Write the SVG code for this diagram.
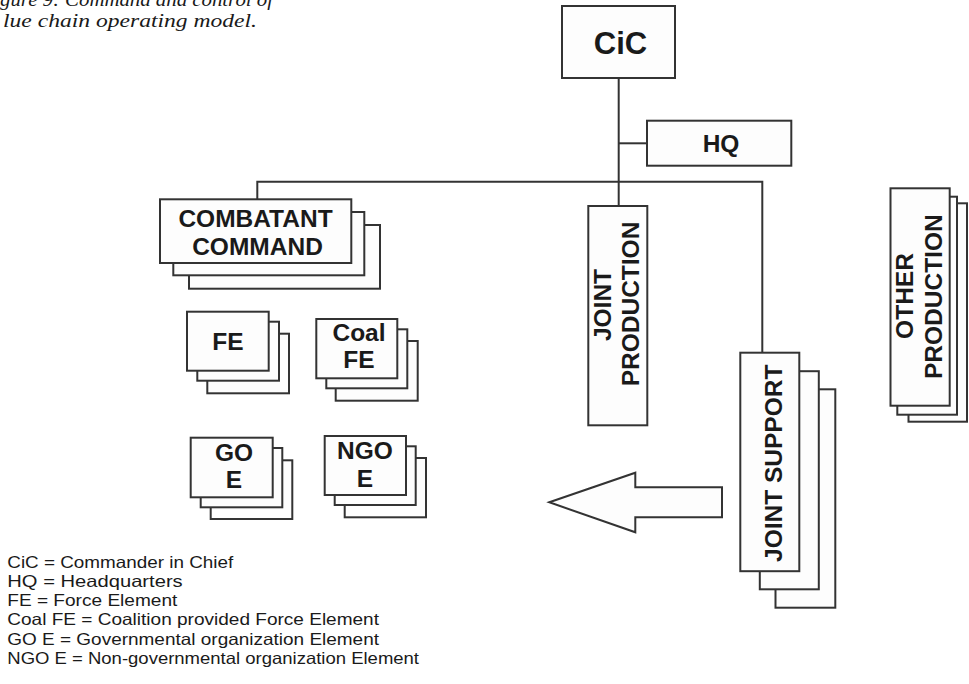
<svg xmlns="http://www.w3.org/2000/svg" width="969" height="684" viewBox="0 0 969 684">
  <style>
    .box { fill: #fdfdfd; stroke: #333; stroke-width: 2; }
    .wire { fill: none; stroke: #333; stroke-width: 2; }
    .lbl { font-family: "Liberation Sans", Arial, sans-serif; font-weight: bold; font-size: 24.5px; fill: #1a1a1a; text-anchor: middle; }
    .legend { font-family: "Liberation Sans", Arial, sans-serif; font-size: 16.5px; fill: #1a1a1a; }
    .caption { font-family: "Liberation Serif", "Times New Roman", serif; font-style: italic; font-size: 19px; fill: #1a1a1a; }
  </style>
  <rect width="969" height="684" fill="#ffffff"/>

  <!-- figure caption (runs off the page edge) -->
  <text class="caption" x="0" y="6" textLength="273" lengthAdjust="spacingAndGlyphs">gure 9: Command and control of</text>
  <text class="caption" x="3" y="26.5" textLength="254" lengthAdjust="spacingAndGlyphs">lue chain operating model.</text>

  <!-- connectors -->
  <g id="connectors">
    <line class="wire" x1="618.7" y1="78" x2="618.7" y2="206"/>
    <line class="wire" x1="618.7" y1="143.3" x2="647" y2="143.3"/>
    <polyline class="wire" points="257.3,199.3 257.3,181.7 762.3,181.7 762.3,352.7"/>
  </g>

  <g id="cic">
    <rect class="box" x="562" y="6" width="113" height="72"/>
    <text class="lbl" x="620.5" y="54.3" style="font-size:31px">CiC</text>
  </g>

  <g id="hq">
    <rect class="box" x="647" y="120.7" width="144.3" height="45"/>
    <text class="lbl" x="721" y="151.5">HQ</text>
  </g>

  <g id="combatant-command">
    <rect class="box" x="189" y="225" width="191" height="63.7"/>
    <rect class="box" x="173.3" y="212" width="191" height="63.3"/>
    <rect class="box" x="160" y="199.3" width="191.3" height="63.7"/>
    <text class="lbl" x="255.5" y="227.3">COMBATANT</text>
    <text class="lbl" x="257.5" y="255">COMMAND</text>
  </g>

  <g id="fe">
    <rect class="box" x="207.3" y="333.7" width="81.7" height="59.6"/>
    <rect class="box" x="197.3" y="321.7" width="81.7" height="59"/>
    <rect class="box" x="187" y="311.7" width="81.7" height="59"/>
    <text class="lbl" x="228" y="350">FE</text>
  </g>

  <g id="coal-fe">
    <rect class="box" x="335.7" y="341" width="82" height="59.7"/>
    <rect class="box" x="326.3" y="329.3" width="81" height="59"/>
    <rect class="box" x="316.3" y="319" width="81" height="59.3"/>
    <text class="lbl" x="359" y="341">Coal</text>
    <text class="lbl" x="359" y="368.3">FE</text>
  </g>

  <g id="go-e">
    <rect class="box" x="210.7" y="460.3" width="81.6" height="58.7"/>
    <rect class="box" x="200.7" y="448" width="81.6" height="59.3"/>
    <rect class="box" x="190.7" y="437.7" width="82" height="59.6"/>
    <text class="lbl" x="234" y="460.7">GO</text>
    <text class="lbl" x="234" y="488.3">E</text>
  </g>

  <g id="ngo-e">
    <rect class="box" x="344.7" y="458" width="81.3" height="59.3"/>
    <rect class="box" x="334.7" y="446.3" width="81" height="58.7"/>
    <rect class="box" x="324.7" y="436" width="81.3" height="59"/>
    <text class="lbl" x="365" y="459.3">NGO</text>
    <text class="lbl" x="365" y="487.3">E</text>
  </g>

  <g id="joint-production">
    <rect class="box" x="588.3" y="206" width="59" height="219.3"/>
    <text class="lbl" transform="translate(610.7,305) rotate(-90)">JOINT</text>
    <text class="lbl" transform="translate(639,304) rotate(-90)">PRODUCTION</text>
  </g>

  <g id="joint-support">
    <rect class="box" x="775.5" y="389.3" width="59.8" height="218.4"/>
    <rect class="box" x="759.8" y="371.2" width="59" height="218.1"/>
    <rect class="box" x="740.3" y="352.7" width="59" height="218.5"/>
    <text class="lbl" transform="translate(782.3,463.3) rotate(-90)">JOINT SUPPORT</text>
  </g>

  <g id="other-production">
    <rect class="box" x="908.5" y="203.3" width="58.5" height="218.4"/>
    <rect class="box" x="897.3" y="196.7" width="59.7" height="218"/>
    <rect class="box" x="890.5" y="188.3" width="59.2" height="217.4"/>
    <text class="lbl" transform="translate(913.3,296) rotate(-90)">OTHER</text>
    <text class="lbl" transform="translate(941.7,296.7) rotate(-90)">PRODUCTION</text>
  </g>

  <g id="support-arrow">
    <polygon class="box" points="549.3,502.3 635.3,472.7 635.3,487.3 722,487.3 722,517.3 635.3,517.3 635.3,532.3"/>
  </g>

  <g id="legend">
    <text class="legend" x="7.3" y="567.7" textLength="226" lengthAdjust="spacingAndGlyphs">CiC = Commander in Chief</text>
    <text class="legend" x="7.3" y="586.9" textLength="175.4" lengthAdjust="spacingAndGlyphs">HQ = Headquarters</text>
    <text class="legend" x="7.3" y="606.1" textLength="170" lengthAdjust="spacingAndGlyphs">FE = Force Element</text>
    <text class="legend" x="7.3" y="625.3" textLength="371.7" lengthAdjust="spacingAndGlyphs">Coal FE = Coalition provided Force Element</text>
    <text class="legend" x="7.3" y="644.5" textLength="371.7" lengthAdjust="spacingAndGlyphs">GO E = Governmental organization Element</text>
    <text class="legend" x="7.3" y="663.7" textLength="411.7" lengthAdjust="spacingAndGlyphs">NGO E = Non-governmental organization Element</text>
  </g>
</svg>
